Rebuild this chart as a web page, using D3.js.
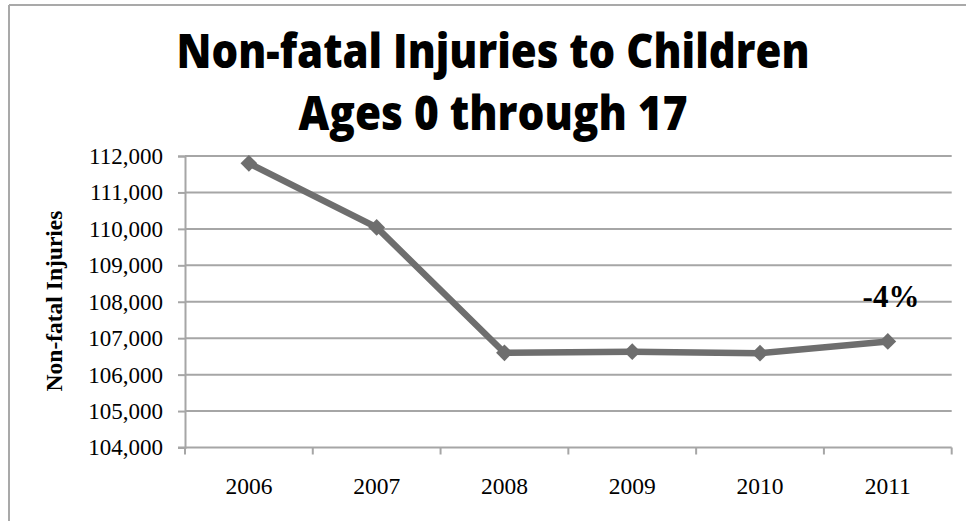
<!DOCTYPE html>
<html>
<head>
<meta charset="utf-8">
<script src="https://cdn.jsdelivr.net/npm/d3@7/dist/d3.min.js"></script>
<style>
  html, body { margin: 0; padding: 0; background: #fff; }
  svg { display: block; }
</style>
</head>
<body>
<svg id="chart" width="966" height="521"></svg>
<script>
// Annual non-fatal injuries to children aged 0-17
const years = ["2006", "2007", "2008", "2009", "2010", "2011"];
const injuries = [111800, 110040, 106600, 106630, 106590, 106910];
const yTicks = [104000, 105000, 106000, 107000, 108000, 109000, 110000, 111000, 112000];
const titleLines = ["Non-fatal Injuries to Children", "Ages 0 through 17"];
const titleWidths = [633, 389];
const yAxisTitle = "Non-fatal Injuries";
const changeLabel = "-4%";

const W = 966, H = 521;
const plot = { left: 185, right: 951.7, top: 156, bottom: 447.5 };
const gridColor = "#a6a6a6";
const lineColor = "#6e6e6e";
const serif = "Liberation Serif, Times New Roman, serif";

const svg = d3.select("#chart");

svg.append("rect").attr("width", W).attr("height", H).attr("fill", "#fff");

// frame edges
svg.append("line").attr("x1", 9).attr("x2", W).attr("y1", 5).attr("y2", 5)
  .attr("stroke", "#a9a9a9").attr("stroke-width", 2);
svg.append("line").attr("x1", 9).attr("x2", 9).attr("y1", 5).attr("y2", H)
  .attr("stroke", "#a9a9a9").attr("stroke-width", 2);

const x = d3.scaleBand().domain(years).range([plot.left, plot.right]).padding(0);
const y = d3.scaleLinear().domain([104000, 112000]).range([plot.bottom, plot.top]);

// horizontal gridlines
svg.append("g").selectAll("line").data(yTicks.filter(d => d !== 104000)).join("line")
  .attr("x1", plot.left).attr("x2", plot.right)
  .attr("y1", d => y(d)).attr("y2", d => y(d))
  .attr("stroke", gridColor).attr("stroke-width", 2);

// y axis
const yAxis = svg.append("g").attr("transform", `translate(${plot.left},0)`)
  .call(d3.axisLeft(y).tickValues(yTicks).tickSize(7).tickPadding(15)
    .tickFormat(d3.format(",")));
yAxis.attr("font-family", serif).attr("font-size", 23);
yAxis.select(".domain").attr("stroke", gridColor).attr("stroke-width", 2);
yAxis.selectAll(".tick line").attr("stroke", gridColor).attr("stroke-width", 2);
yAxis.selectAll(".tick text").attr("fill", "#000");

// x axis with ticks at category boundaries
const xAxisG = svg.append("g").attr("transform", `translate(0,${plot.bottom})`);
xAxisG.append("line").attr("x1", plot.left - 7).attr("x2", plot.right)
  .attr("stroke", gridColor).attr("stroke-width", 2);
const bounds = years.map(d => x(d)).concat([x(years[years.length - 1]) + x.bandwidth()]);
xAxisG.selectAll("line.tk").data(bounds).join("line").attr("class", "tk")
  .attr("x1", d => d).attr("x2", d => d).attr("y1", 0).attr("y2", 7)
  .attr("stroke", gridColor).attr("stroke-width", 2);
xAxisG.selectAll("text").data(years).join("text")
  .attr("x", d => x(d) + x.bandwidth() / 2).attr("y", 46.5)
  .attr("text-anchor", "middle")
  .attr("font-family", serif).attr("font-size", 23.5).attr("fill", "#000")
  .text(d => d);

// y axis title
svg.append("text")
  .attr("transform", `translate(62,301) rotate(-90)`)
  .attr("text-anchor", "middle")
  .attr("font-family", serif).attr("font-weight", "bold").attr("font-size", 23.5)
  .attr("fill", "#000")
  .text(yAxisTitle);

// title, fitted to its measured line widths
svg.append("g").selectAll("text").data(titleLines).join("text")
  .attr("x", 493).attr("y", (d, i) => 68 + i * 62)
  .attr("text-anchor", "middle")
  .attr("font-family", "Open Sans, Lato, sans-serif").attr("font-weight", 800)
  .attr("font-size", 47).attr("fill", "#000")
  .attr("textLength", (d, i) => titleWidths[i])
  .attr("lengthAdjust", "spacingAndGlyphs")
  .text(d => d);

// series line
const pts = years.map((yr, i) => ({ yr, v: injuries[i] }));
const line = d3.line().x(d => x(d.yr) + x.bandwidth() / 2).y(d => y(d.v));
svg.append("path").datum(pts).attr("d", line)
  .attr("fill", "none").attr("stroke", lineColor).attr("stroke-width", 6.5)
  .attr("stroke-linejoin", "round");

// diamond markers
const diamond = d3.symbol().type(d3.symbolSquare).size(140);
svg.append("g").selectAll("path").data(pts).join("path")
  .attr("d", diamond)
  .attr("transform", d => `translate(${x(d.yr) + x.bandwidth() / 2},${y(d.v)}) rotate(45)`)
  .attr("fill", lineColor);

// change annotation
svg.append("text")
  .attr("x", 891).attr("y", 307).attr("text-anchor", "middle")
  .attr("font-family", serif).attr("font-weight", "bold").attr("font-size", 31)
  .attr("fill", "#000")
  .text(changeLabel);
</script>
</body>
</html>
